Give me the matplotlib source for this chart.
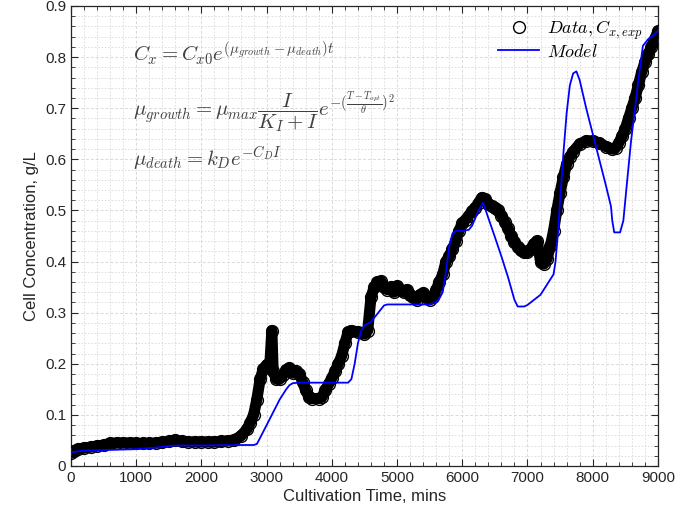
import numpy as np
import matplotlib
matplotlib.use("Agg")
import matplotlib.pyplot as plt
from matplotlib.ticker import MultipleLocator

# measured biomass (cultivation time in mins, concentration in g/L)
t_data = [0, 50, 100, 200, 300, 400, 500, 600, 700, 800, 900, 1000, 1100, 1200, 1300,
          1400, 1500, 1600, 1700, 1800, 1900, 2000, 2100, 2200, 2300, 2400, 2500, 2600,
          2700, 2750, 2800, 2850, 2900, 2950, 3000, 3050, 3080, 3100, 3150, 3200, 3250,
          3300, 3350, 3400, 3450, 3500, 3550, 3600, 3650, 3700, 3800, 3850, 3900, 3950,
          4000, 4050, 4100, 4150, 4200, 4250, 4300, 4400, 4500, 4550, 4600, 4650, 4700,
          4750, 4800, 4850, 4900, 4950, 5000, 5050, 5100, 5150, 5200, 5250, 5300, 5350,
          5400, 5450, 5500, 5550, 5600, 5650, 5700, 5750, 5800, 5850, 5900, 5950, 6000,
          6050, 6100, 6150, 6200, 6250, 6300, 6350, 6400, 6450, 6500, 6550, 6600, 6650,
          6700, 6750, 6800, 6850, 6900, 6950, 7000, 7050, 7100, 7150, 7200, 7250, 7300,
          7350, 7400, 7450, 7500, 7550, 7600, 7650, 7700, 7800, 7900, 8000, 8100, 8200,
          8300, 8350, 8400, 8450, 8500, 8550, 8600, 8650, 8700, 8750, 8800, 8850, 8900,
          8950, 9000]
c_data = [0.025, 0.030, 0.033, 0.035, 0.037, 0.039, 0.041, 0.044, 0.045, 0.045, 0.045,
          0.044, 0.044, 0.044, 0.045, 0.046, 0.048, 0.051, 0.048, 0.047, 0.047, 0.047,
          0.047, 0.047, 0.048, 0.049, 0.051, 0.058, 0.072, 0.085, 0.100, 0.130, 0.170,
          0.190, 0.198, 0.200, 0.265, 0.185, 0.170, 0.170, 0.178, 0.188, 0.192, 0.182,
          0.185, 0.180, 0.165, 0.148, 0.135, 0.132, 0.132, 0.135, 0.148, 0.160, 0.172,
          0.185, 0.200, 0.215, 0.240, 0.262, 0.265, 0.262, 0.258, 0.265, 0.330, 0.350,
          0.360, 0.362, 0.350, 0.345, 0.350, 0.340, 0.352, 0.345, 0.340, 0.345, 0.335,
          0.330, 0.325, 0.335, 0.338, 0.330, 0.325, 0.330, 0.345, 0.360, 0.375, 0.400,
          0.410, 0.425, 0.440, 0.460, 0.475, 0.482, 0.490, 0.498, 0.505, 0.515, 0.525,
          0.522, 0.512, 0.508, 0.505, 0.500, 0.490, 0.478, 0.465, 0.450, 0.438, 0.428,
          0.422, 0.418, 0.418, 0.425, 0.435, 0.440, 0.400, 0.395, 0.405, 0.430, 0.460,
          0.500, 0.535, 0.565, 0.590, 0.605, 0.615, 0.630, 0.636, 0.636, 0.632, 0.625,
          0.620, 0.622, 0.632, 0.645, 0.660, 0.680, 0.700, 0.720, 0.745, 0.770, 0.790,
          0.805, 0.820, 0.835, 0.850]

# model prediction
t_model = [0, 200, 500, 1000, 1300, 1500, 1600, 2000, 2500, 2800, 2850, 2900, 3000, 3100,
           3200, 3300, 3350, 3400, 3500, 4000, 4250, 4300, 4350, 4400, 4450, 4500, 4600,
           4700, 4800, 4850, 5000, 5500, 5600, 5650, 5700, 5750, 5800, 5850, 5900, 6000,
           6100, 6150, 6200, 6250, 6320, 6400, 6500, 6600, 6700, 6800, 6850, 6950, 7000,
           7100, 7200, 7300, 7400, 7430, 7470, 7500, 7550, 7600, 7650, 7700, 7750, 7800,
           7900, 8000, 8100, 8200, 8280, 8300, 8330, 8420, 8470, 8530, 8590, 8650, 8700,
           8770, 8850, 8950, 9000]
c_model = [0.027, 0.030, 0.031, 0.033, 0.036, 0.039, 0.040, 0.040, 0.041, 0.041, 0.043,
           0.055, 0.080, 0.105, 0.130, 0.150, 0.158, 0.162, 0.163, 0.163, 0.163, 0.170,
           0.200, 0.240, 0.265, 0.275, 0.282, 0.298, 0.314, 0.316, 0.316, 0.316, 0.320,
           0.328, 0.340, 0.380, 0.430, 0.455, 0.460, 0.460, 0.462, 0.470, 0.485, 0.500,
           0.515, 0.485, 0.448, 0.410, 0.370, 0.325, 0.312, 0.312, 0.315, 0.325, 0.335,
           0.355, 0.375, 0.400, 0.460, 0.520, 0.610, 0.690, 0.745, 0.768, 0.772, 0.755,
           0.700, 0.650, 0.600, 0.550, 0.508, 0.480, 0.457, 0.457, 0.480, 0.560, 0.638,
           0.700, 0.755, 0.822, 0.835, 0.845, 0.852]

x_ticks = list(range(0, 9001, 1000))
y_ticks = [0, 0.1, 0.2, 0.3, 0.4, 0.5, 0.6, 0.7, 0.8, 0.9]
y_tick_labels = ["0", "0.1", "0.2", "0.3", "0.4", "0.5", "0.6", "0.7", "0.8", "0.9"]

plt.rcParams["font.family"] = ["Liberation Sans", "DejaVu Sans"]
plt.rcParams["mathtext.fontset"] = "cm"

fig = plt.figure(figsize=(6.94, 5.21), dpi=100)
ax = fig.add_axes([0.1023, 0.1056, 0.8457, 0.883])

grid_col = "#d9d9d9"
ax.xaxis.set_minor_locator(MultipleLocator(200))
ax.yaxis.set_minor_locator(MultipleLocator(0.02))
ax.grid(True, which="major", color=grid_col, linestyle=(0, (3, 2)), linewidth=0.7)
ax.grid(True, which="minor", color=grid_col, linestyle=(0, (2, 2)), linewidth=0.6)
ax.set_axisbelow(True)

# dense circles merge into a thick band in the original
ax.plot(t_data, c_data, "-", color="black", linewidth=8, solid_capstyle="round",
        solid_joinstyle="round", zorder=2)
ax.plot(t_data, c_data, "o", mfc="none", mec="black", ms=8.5, mew=1.0, zorder=3,
        label=r"$Data, C_{x,exp}$")
ax.plot(t_model, c_model, "-", color="#0000ff", linewidth=1.3, zorder=4,
        label=r"$Model$")

ax.set_xlim(0, 9000)
ax.set_ylim(0, 0.9)
ax.set_xticks(x_ticks)
ax.set_yticks(y_ticks)
ax.set_yticklabels(y_tick_labels)

txt_col = "#262626"
ax.tick_params(which="both", direction="in", top=True, right=True,
               colors=txt_col, labelsize=11)
ax.tick_params(which="major", length=5, width=0.8)
ax.tick_params(which="minor", length=3, width=0.6)
for s in ax.spines.values():
    s.set_color(txt_col)
    s.set_linewidth(0.9)

ax.set_xlabel("Cultivation Time, mins", fontsize=12, color=txt_col, labelpad=3)
ax.set_ylabel("Cell Concentration, g/L", fontsize=12, color=txt_col, labelpad=4)

eq_col = "#404040"
ax.text(950, 0.806, r"$C_x = C_{x0}e^{(\mu_{growth}-\mu_{death})t}$",
        fontsize=15, color=eq_col, va="center")
ax.text(950, 0.693,
        r"$\mu_{growth} = \mu_{max}\dfrac{I}{K_I+I}e^{-(\frac{T-T_{opt}}{\theta})^2}$",
        fontsize=15, color=eq_col, va="center")
ax.text(950, 0.603, r"$\mu_{death} = k_D e^{-C_D I}$",
        fontsize=15, color=eq_col, va="center")

leg = ax.legend(loc="upper right", bbox_to_anchor=(0.995, 1.0), frameon=False,
                fontsize=13, handlelength=2.3, handletextpad=0.4,
                labelspacing=0.1, borderaxespad=0.3)

fig.savefig("out.png", dpi=100)
